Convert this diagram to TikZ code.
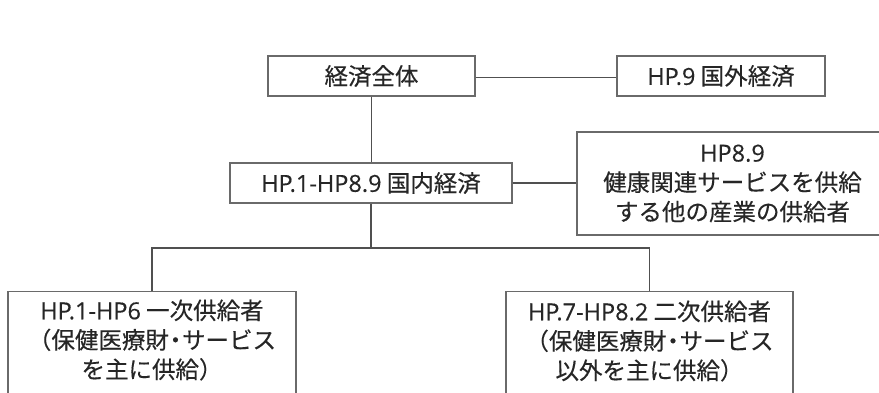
\documentclass[tikz,border=0pt]{standalone}
\usepackage{fontspec}
\setmainfont{Noto Sans CJK JP}[FakeBold=0.3]
\newfontfamily\lat{Open Sans}[FakeBold=0.3]
\definecolor{ink}{HTML}{262626}
\definecolor{edge}{HTML}{6A6A6A}
\definecolor{wire}{HTML}{505050}
\newcommand{\middot}{\kern-0.22em・\kern-0.22em}
\begin{document}
\begin{tikzpicture}[x=1pt,y=-1pt,
  box/.style={draw=edge,line width=1.1pt,inner sep=0pt,fill=white},
  txt/.style={text=ink,align=center,font=\fontsize{23.5}{29.5}\selectfont,inner sep=0pt},
  wirestyle/.style={draw=wire,line width=1.1pt}]
\useasboundingbox (0,0) rectangle (879,392);
\clip (0,0) rectangle (879,392);

\node[box,txt,minimum width=207pt,minimum height=40pt] (all) at (371.5,76) {経済全体};
\node[box,txt,minimum width=208pt,minimum height=40pt] (abroad) at (721,76) {{\lat HP.9} 国外経済};
\node[box,txt,minimum width=282pt,minimum height=40pt] (dom) at (371,183) {{\lat HP.1-HP8.9} 国内経済};
\node[box,txt,minimum width=311pt,minimum height=103pt] (other) at (732.5,183.5) {{\lat HP8.9}\\健康関連サービスを供給\\する他の産業の供給者};

\node[box,minimum width=288pt,minimum height=130pt,anchor=north] (prim) at (152,291) {};
\node[txt] (primt) at (152,340) {{\lat HP.1-HP6} 一次供給者\\（保健医療財\middot サービス\\を主に供給）};
\node[box,minimum width=287pt,minimum height=130pt,anchor=north] (sec) at (649.5,291) {};
\node[txt] (sect) at (649.5,341) {{\lat HP.7-HP8.2} 二次供給者\\（保健医療財\middot サービス\\以外を主に供給）};

\coordinate (split) at (371,248);
\draw[wirestyle] ([yshift=-1.5pt]all.east) -- ([yshift=-1.5pt]all.east -| abroad.west);
\draw[wirestyle] (all.south) -- (all.south |- dom.north);
\draw[wirestyle] (dom.east) -- (dom.east -| other.west);
\draw[wirestyle] (dom.south) -- (split);
\draw[wirestyle] (prim.north) -- (prim.north |- split) -- (sec.north |- split) -- (sec.north);
\end{tikzpicture}
\end{document}
